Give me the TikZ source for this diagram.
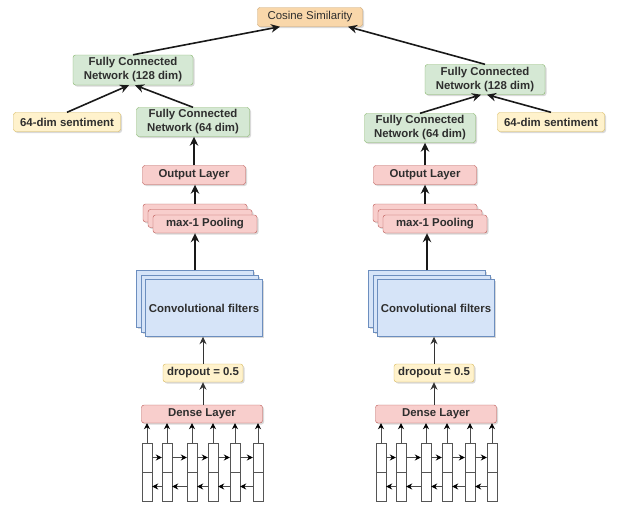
\documentclass[tikz,border=0pt]{standalone}
\usepackage{fontspec}
\setmainfont{Liberation Sans}
\usetikzlibrary{arrows.meta,shadows}
\definecolor{textgray}{HTML}{2E2E2E}
\definecolor{fcfill}{HTML}{D5E8D4}\definecolor{fcdraw}{HTML}{82B366}
\definecolor{layerfill}{HTML}{F8CECC}\definecolor{layerdraw}{HTML}{B85450}
\definecolor{sentfill}{HTML}{FFF2CC}\definecolor{sentdraw}{HTML}{D6B656}
\definecolor{cosfill}{HTML}{F9D7AA}\definecolor{cosdraw}{HTML}{C9A26E}
\definecolor{convfill}{HTML}{D6E4F8}\definecolor{convdraw}{HTML}{6C8EBF}
\definecolor{cellgray}{HTML}{555555}
\tikzstyle{base_box}=[rectangle,draw,rounded corners=2.5pt,inner sep=0pt,align=center,text=textgray,drop shadow={shadow xshift=1.5pt,shadow yshift=-1.5pt,opacity=0.3}]
\tikzstyle{fc_box}=[base_box,fill=fcfill,draw=fcdraw]
\tikzstyle{layer_box}=[base_box,fill=layerfill,draw=layerdraw]
\tikzstyle{sent_box}=[base_box,fill=sentfill,draw=sentdraw]
\tikzstyle{cos_box}=[base_box,fill=cosfill,draw=cosdraw]
\tikzstyle{conv_box}=[base_box,fill=convfill,draw=convdraw,minimum width=117,minimum height=57,rounded corners=0pt]
\tikzstyle{pool_size}=[minimum width=104,minimum height=18]
\tikzstyle{cell}=[rectangle,draw=cellgray,fill=white,minimum width=10,minimum height=29,inner sep=0pt]
\tikzstyle{thick_arrow}=[line width=1.6pt,draw=black!90,-{Stealth[length=9pt,width=8.5pt]}]
\tikzstyle{thin_arrow}=[line width=1pt,draw=black!80,-{Stealth[length=7.5pt,width=7pt]}]
\tikzstyle{cell_arrow}=[line width=0.8pt,draw=black!70,-{Stealth[length=6pt,width=6pt,color=black]}]

\begin{document}
\begin{tikzpicture}[x=1pt,y=-1pt,font=\fontsize{11.4}{14}\selectfont\bfseries]
\useasboundingbox (0,0) rectangle (620,507);
\node (cosine) at (310,17)[cos_box,minimum width=105,minimum height=19,font=\fontsize{11.4}{14}\selectfont\mdseries] {Cosine Similarity};
% left branch
\node (lfc128) at (133,70)[fc_box,minimum width=120,minimum height=30] {Fully Connected\\Network (128 dim)};
\node (lsent) at (67,122)[sent_box,minimum width=107,minimum height=19] {64-dim sentiment};
\node (lfc64) at (193,122)[fc_box,minimum width=113,minimum height=29] {Fully Connected\\Network (64 dim)};
\node (lout) at (194,175)[layer_box,minimum width=103,minimum height=19] {Output Layer};
\node (lpool3) at (195,213)[layer_box,pool_size] {};\node (lpool2) at (200,218.5)[layer_box,pool_size] {};
\node (lpool1) at (205,224)[layer_box,pool_size] {max-1 Pooling};
\node (lconv3) at (195,299)[conv_box] {};\node (lconv2) at (199.5,303.5)[conv_box] {};
\node (lconv1) at (204,308)[conv_box] {Convolutional filters};
\node (ldrop) at (203,373)[sent_box,minimum width=80,minimum height=18] {dropout = 0.5};
\node (ldense) at (202,414)[layer_box,minimum width=121,minimum height=18] {Dense Layer};
\node (lf1) at (147,457.5)[cell] {};\node (lb1) at (147,486.5)[cell] {};
\node (lf2) at (167,457.5)[cell] {};\node (lb2) at (167,486.5)[cell] {};
\node (lf3) at (192,457.5)[cell] {};\node (lb3) at (192,486.5)[cell] {};
\node (lf4) at (213,457.5)[cell] {};\node (lb4) at (213,486.5)[cell] {};
\node (lf5) at (235,457.5)[cell] {};\node (lb5) at (235,486.5)[cell] {};
\node (lf6) at (258,457.5)[cell] {};\node (lb6) at (258,486.5)[cell] {};
% right branch
\node (rfc128) at (485,79.5)[fc_box,minimum width=120,minimum height=30] {Fully Connected\\Network (128 dim)};
\node (rsent) at (551,122)[sent_box,minimum width=107,minimum height=19] {64-dim sentiment};
\node (rfc64) at (420,128)[fc_box,minimum width=111,minimum height=29] {Fully Connected\\Network (64 dim)};
\node (rout) at (425,175)[layer_box,minimum width=103,minimum height=19] {Output Layer};
\node (rpool3) at (425,213)[layer_box,pool_size] {};\node (rpool2) at (430,218.5)[layer_box,pool_size] {};
\node (rpool1) at (435,224)[layer_box,pool_size] {max-1 Pooling};
\node (rconv3) at (427,299)[conv_box] {};\node (rconv2) at (431.5,303.5)[conv_box] {};
\node (rconv1) at (436,308)[conv_box] {Convolutional filters};
\node (rdrop) at (434,373)[sent_box,minimum width=80,minimum height=18] {dropout = 0.5};
\node (rdense) at (436,414)[layer_box,minimum width=121,minimum height=18] {Dense Layer};
\node (rf1) at (381,457.5)[cell] {};\node (rb1) at (381,486.5)[cell] {};
\node (rf2) at (401,457.5)[cell] {};\node (rb2) at (401,486.5)[cell] {};
\node (rf3) at (426,457.5)[cell] {};\node (rb3) at (426,486.5)[cell] {};
\node (rf4) at (447,457.5)[cell] {};\node (rb4) at (447,486.5)[cell] {};
\node (rf5) at (470,457.5)[cell] {};\node (rb5) at (470,486.5)[cell] {};
\node (rf6) at (492,457.5)[cell] {};\node (rb6) at (492,486.5)[cell] {};
% connectors
\draw[thick_arrow] (lfc128.north) -- ([xshift=-30pt]cosine.south);
\draw[thick_arrow] (rfc128.north) -- ([xshift=38pt]cosine.south);
\draw[thick_arrow] (lsent.north) -- ([xshift=-4pt]lfc128.south);\draw[thick_arrow] (lfc64.north) -- ([xshift=2pt]lfc128.south);
\draw[thick_arrow] (rfc64.north) -- ([xshift=-4pt]rfc128.south);\draw[thick_arrow] (rsent.north) -- ([xshift=2pt]rfc128.south);
\draw[thick_arrow] (lout.north) -- (lout.north |- lfc64.south);\draw[thick_arrow] (rout.north) -- (rout.north |- rfc64.south);
\draw[thick_arrow] (lpool3.north) -- (lpool3.north |- lout.south);\draw[thick_arrow] (rpool3.north) -- (rpool3.north |- rout.south);
\draw[thick_arrow] (lconv3.north) -- (lconv3.north |- lpool1.south);\draw[thick_arrow] (rconv3.north) -- (rconv3.north |- rpool1.south);
\draw[thin_arrow] (ldrop.north) -- (ldrop.north |- lconv1.south);\draw[thin_arrow] (rdrop.north) -- (rdrop.north |- rconv1.south);
\draw[thin_arrow] (ldrop.south |- ldense.north) -- (ldrop.south);\draw[thin_arrow] (rdrop.south |- rdense.north) -- (rdrop.south);
\draw[cell_arrow] (lf1.north) -- (lf1.north |- ldense.south);\draw[cell_arrow] (lf2.north) -- (lf2.north |- ldense.south);
\draw[cell_arrow] (lf3.north) -- (lf3.north |- ldense.south);\draw[cell_arrow] (lf4.north) -- (lf4.north |- ldense.south);
\draw[cell_arrow] (lf5.north) -- (lf5.north |- ldense.south);\draw[cell_arrow] (lf6.north) -- (lf6.north |- ldense.south);
\draw[cell_arrow] (rf1.north) -- (rf1.north |- rdense.south);\draw[cell_arrow] (rf2.north) -- (rf2.north |- rdense.south);
\draw[cell_arrow] (rf3.north) -- (rf3.north |- rdense.south);\draw[cell_arrow] (rf4.north) -- (rf4.north |- rdense.south);
\draw[cell_arrow] (rf5.north) -- (rf5.north |- rdense.south);\draw[cell_arrow] (rf6.north) -- (rf6.north |- rdense.south);
\draw[cell_arrow] (lf1.east) -- (lf2.west);\draw[cell_arrow] (lf2.east) -- (lf3.west);\draw[cell_arrow] (lf3.east) -- (lf4.west);
\draw[cell_arrow] (lf4.east) -- (lf5.west);\draw[cell_arrow] (lf5.east) -- (lf6.west);
\draw[cell_arrow] (lb2.west) -- (lb1.east);\draw[cell_arrow] (lb3.west) -- (lb2.east);\draw[cell_arrow] (lb4.west) -- (lb3.east);
\draw[cell_arrow] (lb5.west) -- (lb4.east);\draw[cell_arrow] (lb6.west) -- (lb5.east);
\draw[cell_arrow] (rf1.east) -- (rf2.west);\draw[cell_arrow] (rf2.east) -- (rf3.west);\draw[cell_arrow] (rf3.east) -- (rf4.west);
\draw[cell_arrow] (rf4.east) -- (rf5.west);\draw[cell_arrow] (rf5.east) -- (rf6.west);
\draw[cell_arrow] (rb2.west) -- (rb1.east);\draw[cell_arrow] (rb3.west) -- (rb2.east);\draw[cell_arrow] (rb4.west) -- (rb3.east);
\draw[cell_arrow] (rb5.west) -- (rb4.east);\draw[cell_arrow] (rb6.west) -- (rb5.east);
\end{tikzpicture}
\end{document}
